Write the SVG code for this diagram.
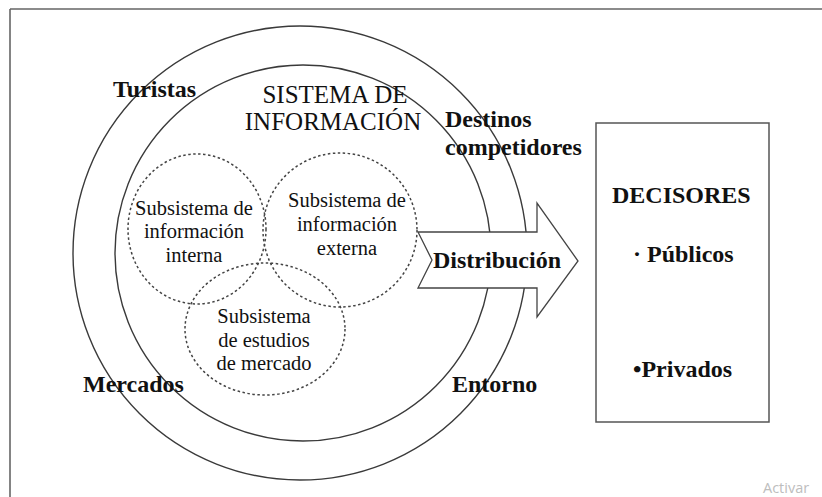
<svg xmlns="http://www.w3.org/2000/svg" width="822" height="497" viewBox="0 0 822 497">
<style>
.ring{fill:none;stroke:#3a3a3a;stroke-width:1.4}
.dash{fill:none;stroke:#444;stroke-width:1.5;stroke-dasharray:2.5 2.5}
.frame{fill:none;stroke:#666;stroke-width:1.6}
.t{font-family:"Liberation Serif","Times New Roman",serif;fill:#111}
.b{font-weight:bold;font-size:24px}
.s{font-size:20.5px;text-anchor:middle}
.h{font-size:25px;text-anchor:middle}
</style>
<rect width="822" height="497" fill="#fff"/>
<g id="frame">
<path class="frame" d="M10,9 H822 M10,9 V497"/>
</g>
<g id="entorno">
<circle class="ring" cx="300" cy="253" r="227"/>
</g>
<g id="sistema">
<circle class="ring" cx="303" cy="253" r="188"/>
</g>
<g id="sub-interna">
<ellipse class="dash" cx="197" cy="229" rx="69" ry="75"/>
</g>
<g id="sub-externa">
<ellipse class="dash" cx="340" cy="230" rx="77" ry="77"/>
</g>
<g id="sub-estudios">
<ellipse class="dash" cx="265" cy="329" rx="80" ry="66"/>
</g>
<g id="connectors">
<polygon id="distribucion" points="418,232 537,232 537,203 578,261 537,317 537,288 418,288 432,260" fill="#fff" stroke="#444" stroke-width="1.3"/>
</g>
<g id="decisores">
<rect x="596" y="123" width="173" height="299" fill="#fff" stroke="#555" stroke-width="1.5"/>
<text class="t b" x="612" y="203">DECISORES</text>
<text class="t b" x="633" y="262">· Públicos</text>
<text class="t b" x="633" y="377">•Privados</text>
</g>
<g id="labels">
<text class="t b" x="113" y="97">Turistas</text>
<text class="t h" x="335" y="103">SISTEMA DE</text>
<text class="t h" x="333" y="129.5">INFORMACIÓN</text>
<text class="t b" x="445" y="127">Destinos</text>
<text class="t b" x="445" y="155">competidores</text>
<text class="t b" x="433" y="268">Distribución</text>
<text class="t b" x="83" y="392">Mercados</text>
<text class="t b" x="452" y="392">Entorno</text>
<text class="t s" x="194" y="215">Subsistema de</text>
<text class="t s" x="194" y="238">información</text>
<text class="t s" x="194" y="262">interna</text>
<text class="t s" x="347" y="207">Subsistema de</text>
<text class="t s" x="347" y="231">información</text>
<text class="t s" x="347" y="255">externa</text>
<text class="t s" x="264" y="323">Subsistema</text>
<text class="t s" x="264" y="347">de estudios</text>
<text class="t s" x="264" y="370">de mercado</text>
</g>
<text x="763" y="493" font-family="'Open Sans','Noto Sans',sans-serif" font-size="14.5" fill="#bdbdbd">Activar</text>
</svg>
